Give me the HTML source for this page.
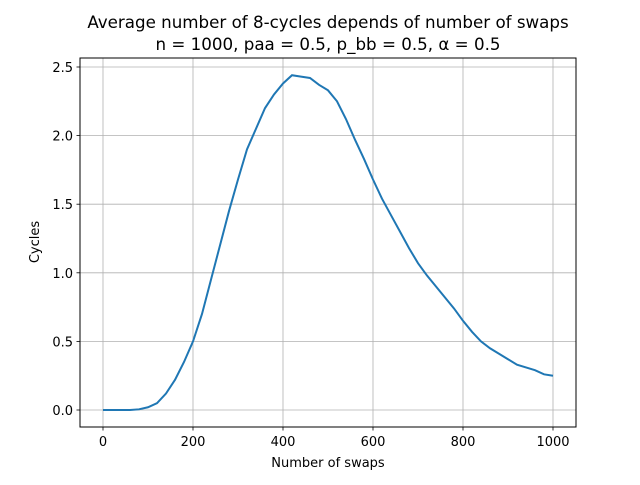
<!DOCTYPE html>
<html><head><meta charset="utf-8"><style>
body{margin:0;background:#fff;}
svg text{font-family:"DejaVu Sans","Liberation Sans",sans-serif;fill:#000;}
</style></head><body>
<svg width="640" height="480" id="c">
<rect width="640" height="480" fill="#fff"/>
<text x="328" y="28" font-size="16.7" text-anchor="middle">Average number of 8-cycles depends of number of swaps</text>
<text x="328" y="50" font-size="16.7" text-anchor="middle">n = 1000, paa = 0.5, p_bb = 0.5, α = 0.5</text>
<g id="grid"></g><g id="ticks"></g>
<path id="line" fill="none" stroke="#1f77b4" stroke-width="2"/>
<rect x="80" y="58" width="496" height="369" fill="none" stroke="#000" stroke-width="1"/>
<text x="328" y="467" font-size="13" text-anchor="middle">Number of swaps</text>
<text x="0" y="0" font-size="13" text-anchor="middle" transform="translate(39,242) rotate(-90)">Cycles</text>
</svg>
<script>
const swaps=[0,20,40,60,80,100,120,140,160,180,200,220,240,260,280,300,320,340,360,380,400,420,440,460,480,500,520,540,560,580,600,620,640,660,680,700,720,740,760,780,800,820,840,860,880,900,920,940,960,980,1000];
const cycles=[0,0,0,0,0.005,0.02,0.05,0.12,0.22,0.35,0.5,0.7,0.95,1.2,1.45,1.68,1.9,2.05,2.2,2.3,2.38,2.44,2.43,2.42,2.37,2.33,2.25,2.12,1.97,1.83,1.68,1.54,1.42,1.3,1.18,1.07,0.98,0.9,0.82,0.74,0.65,0.57,0.5,0.45,0.41,0.37,0.33,0.31,0.29,0.26,0.25];
const xTicks=[0,200,400,600,800,1000];
const yTicks=[0,0.5,1,1.5,2,2.5];
const yLabels=["0.0","0.5","1.0","1.5","2.0","2.5"];
const X=v=>103+v*0.45, Y=v=>410-v*137.2;
const ns="http://www.w3.org/2000/svg";
const g=document.getElementById('grid'), t=document.getElementById('ticks');
function mk(p,tag,a){const e=document.createElementNS(ns,tag);for(const k in a)e.setAttribute(k,a[k]);p.appendChild(e);return e;}
xTicks.forEach(v=>{const x=X(v);
const gl=mk(g,'line',{x1:x,x2:x,y1:58,y2:427,stroke:'#b0b0b0','stroke-width':0.8});


mk(t,'line',{x1:x,x2:x,y1:427,y2:430.5,stroke:'#000','stroke-width':0.8});
const tx=mk(t,'text',{x:x,y:446,'font-size':13,'text-anchor':'middle'});tx.textContent=v;

});
yTicks.forEach((v,i)=>{const y=Y(v);
const gl=mk(g,'line',{x1:80,x2:576,y1:y,y2:y,stroke:'#b0b0b0','stroke-width':0.8});


mk(t,'line',{x1:76.5,x2:80,y1:y,y2:y,stroke:'#000','stroke-width':0.8});
const tx=mk(t,'text',{x:73,y:y+5,'font-size':13,'text-anchor':'end'});tx.textContent=yLabels[i];

});
document.getElementById('line').setAttribute('d',swaps.map((s,i)=>(i?'L':'M')+X(s)+','+Y(cycles[i])).join(''));
</script>
</body></html>
